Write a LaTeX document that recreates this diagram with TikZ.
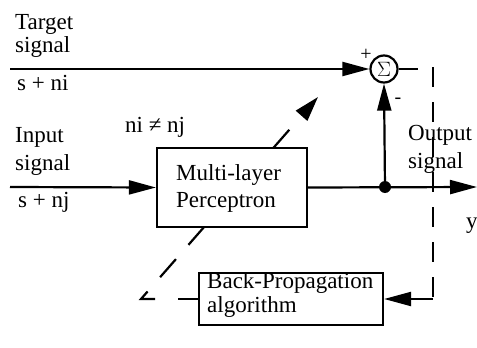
\documentclass[tikz,border=0pt]{standalone}
\usepackage{fontspec}
\setmainfont{Liberation Serif}
\usetikzlibrary{arrows.meta,backgrounds}
\begin{document}
\begin{tikzpicture}[x=1pt,y=-1pt,
  wire/.style={line width=2.2pt},
  arr/.style={wire,-{Triangle[length=27pt,width=14pt]}},
  dsh/.style={line width=2.2pt,dash pattern=on 24pt off 19pt},
  box/.style={draw,line width=2.2pt,fill=white,inner sep=0pt},
  lbl/.style={anchor=base west,inner sep=0pt,font=\fontsize{23}{25}\selectfont}]
\useasboundingbox (0,0) rectangle (477,348);
% nodes
\node[box,minimum width=150pt,minimum height=79pt] (mlp) at (232,187.5) {};
\node[box,minimum width=184pt,minimum height=52pt] (bp) at (291,299) {};
\node[draw,circle,line width=2.2pt,minimum size=27pt,inner sep=0pt,font=\fontsize{21}{21}\selectfont] (sig) at (384,69) {$\Sigma$};
\node[circle,fill,minimum size=12pt,inner sep=0pt] (dot) at (385,187) {};
\coordinate (tin) at (10,69);
\coordinate (iin) at (10,187);
\coordinate (out) at (477,187);
\coordinate (stub) at (418,69);
\coordinate (vtop) at (433,67);
\coordinate (vbot) at (433,299);
\coordinate (bpstub) at (178,299);
\coordinate (cstart) at (155,299);
\coordinate (corner) at (141,299);
\coordinate (tip) at (318,97);
% texts
\node[lbl] (t1) at (15,29) {Target};
\node[lbl] (t2) at (15,52) {signal};
\node[lbl] (t3) at (17,90) {s + ni};
\node[lbl] (i1) at (15,142) {Input};
\node[lbl] (i2) at (15,170) {signal};
\node[lbl] (i3) at (18,207) {s + nj};
\node[lbl] (ne) at (125,132) {ni ≠ nj};
\node[lbl] (m1) at (176,180) {Multi-layer};
\node[lbl] (m2) at (176,207) {Perceptron};
\node[lbl] (o1) at (408,140) {Output};
\node[lbl] (o2) at (408,168) {signal};
\node[lbl] (yy) at (466,228) {y};
\node[lbl] (b1) at (207,288) {Back-Propagation};
\node[lbl] (b2) at (207,312) {algorithm};
\node[inner sep=0pt,font=\fontsize{20}{20}\selectfont] (plus) at (366,55) {+};
\node[inner sep=0pt,font=\fontsize{20}{20}\selectfont] (minus) at (398,101) {-};
% connectors
\draw[arr] (tin) -- (sig.west);
\draw[wire] (sig.east) -- (stub);
\draw[arr] (iin) -- (mlp.west);
\draw[arr] (mlp.east) -- (out);
\draw[arr] (dot) -- (sig.south);
\draw[line width=2.2pt,dash pattern=on 20pt off 15pt] (vtop) -- (vbot);
\draw[arr] (vbot) -- (bp.east);
\begin{pgfonlayer}{background}
\draw[wire] (bp.west) -- (bpstub);
\draw[dsh,-{Triangle[length=25pt,width=15pt]}] (cstart) -- (corner) -- (tip);
\end{pgfonlayer}
\end{tikzpicture}
\end{document}
